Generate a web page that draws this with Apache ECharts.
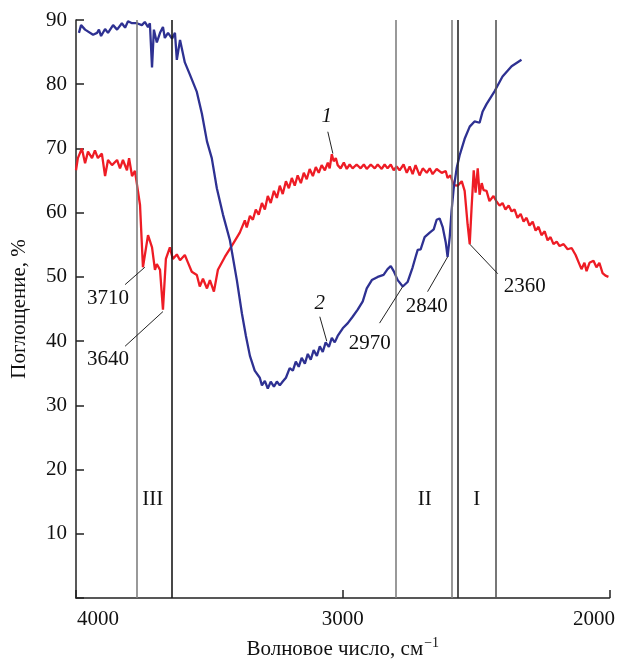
<!DOCTYPE html>
<html>
<head>
<meta charset="utf-8">
<script src="https://cdn.jsdelivr.net/npm/echarts@6/dist/echarts.min.js"></script>
<style>
  html, body { margin: 0; padding: 0; background: #fff; }
  #chart { width: 618px; height: 665px; }
</style>
</head>
<body>
<div id="chart"></div>
<script>
// curve 1 (red) - wavenumber, absorption %
const redWave = [4000, 3993, 3978, 3966, 3955, 3940, 3929, 3918, 3903, 3891, 3880, 3865, 3846, 3835, 3824, 3809, 3801, 3790, 3779, 3772,
  3760, 3749, 3742, 3730, 3715, 3704, 3697, 3685, 3674, 3663, 3648, 3637, 3622, 3610, 3592, 3581, 3566, 3547, 3536, 3524, 3509, 3498, 3483,
  3468, 3442, 3412, 3386, 3367, 3360, 3348, 3337, 3326, 3315, 3303, 3292, 3281, 3270, 3258, 3247, 3236, 3225, 3213, 3202, 3191, 3180, 3169,
  3157, 3146, 3135, 3124, 3112, 3101, 3090, 3079, 3067, 3056, 3049, 3041, 3034, 3026, 3019, 3008, 2996, 2985, 2974, 2963, 2948, 2933, 2921,
  2910, 2895, 2880, 2869, 2854, 2843, 2832, 2820, 2809, 2798, 2787, 2772, 2760, 2749, 2738, 2727, 2712, 2700, 2685, 2674, 2663, 2648, 2629,
  2614, 2607, 2596, 2584, 2569, 2554, 2543, 2532, 2524, 2517, 2509, 2502, 2494, 2487, 2479, 2472, 2461, 2450, 2435, 2423, 2412, 2401, 2390,
  2378, 2367, 2356, 2345, 2333, 2322, 2311, 2300, 2288, 2277, 2266, 2255, 2243, 2232, 2221, 2210, 2198, 2187, 2172, 2157, 2142, 2127, 2116,
  2105, 2094, 2086, 2075, 2060, 2049, 2038, 2026, 2015, 2004];
const redAbs = [66.6, 68.5, 70.0, 67.7, 69.5, 68.5, 69.7, 68.5, 69.2, 65.7, 68.2, 67.4, 68.2, 66.9, 68.2, 66.6, 68.5, 65.7, 66.5, 66.5,
  61.2, 51.5, 51.7, 56.5, 54.6, 51.1, 52.0, 51.1, 44.9, 52.8, 54.6, 52.8, 53.5, 52.6, 53.4, 52.3, 50.8, 50.3, 48.5, 49.7, 48.2, 49.5, 47.7,
  51.1, 53.1, 55.1, 56.9, 58.8, 57.7, 59.5, 58.9, 60.5, 59.7, 61.5, 60.5, 62.6, 61.5, 63.4, 62.3, 64.2, 62.9, 64.9, 63.8, 65.4, 64.2, 65.8,
  64.6, 66.2, 65.2, 66.8, 65.7, 67.1, 66.2, 67.4, 66.6, 67.8, 66.9, 69.1, 68.0, 68.5, 67.4, 66.9, 67.8, 66.8, 67.5, 66.9, 67.5, 66.9, 67.5,
  66.8, 67.5, 66.9, 67.5, 66.8, 67.5, 66.9, 67.5, 66.6, 67.2, 66.6, 67.5, 66.2, 67.2, 66.0, 67.4, 65.8, 66.9, 66.2, 66.9, 66.0, 66.8, 66.2,
  66.5, 65.4, 65.8, 64.3, 64.2, 64.9, 63.4, 58.2, 55.1, 60.8, 66.6, 63.1, 66.9, 62.8, 64.6, 63.5, 63.4, 61.8, 62.6, 61.7, 61.1, 61.5, 60.5,
  61.1, 60.2, 60.5, 59.2, 59.8, 58.6, 59.2, 58.0, 58.6, 57.2, 57.8, 56.5, 57.1, 55.7, 56.2, 55.1, 55.5, 54.8, 55.1, 54.3, 54.5, 53.4, 52.3,
  51.2, 52.2, 50.9, 52.2, 52.5, 51.5, 52.2, 50.6, 50.2, 50.0];

// curve 2 (blue)
const blueWave = [3989, 3981, 3966, 3936, 3921, 3914, 3906, 3891, 3880, 3861, 3846, 3828, 3816, 3805, 3790, 3772, 3753, 3742, 3730, 3723,
  3715, 3708, 3697, 3685, 3674, 3667, 3655, 3640, 3629, 3622, 3610, 3592, 3573, 3547, 3528, 3509, 3491, 3472, 3449, 3423, 3397, 3378, 3363,
  3348, 3330, 3311, 3303, 3292, 3281, 3270, 3258, 3247, 3236, 3225, 3213, 3199, 3187, 3176, 3165, 3154, 3142, 3131, 3120, 3109, 3097, 3086,
  3075, 3064, 3052, 3041, 3030, 3019, 3000, 2981, 2963, 2944, 2925, 2910, 2891, 2869, 2847, 2832, 2820, 2809, 2794, 2775, 2757, 2738, 2727,
  2719, 2708, 2693, 2674, 2659, 2648, 2637, 2625, 2614, 2607, 2599, 2592, 2584, 2573, 2562, 2543, 2524, 2506, 2487, 2476, 2461, 2431, 2401,
  2367, 2330];
const blueAbs = [88.0, 89.2, 88.5, 87.7, 88.0, 88.5, 87.5, 88.6, 88.0, 89.2, 88.5, 89.5, 88.8, 89.8, 89.5, 89.5, 89.2, 89.7, 88.9, 89.5,
  82.6, 88.5, 86.5, 88.0, 88.9, 87.2, 88.0, 87.1, 88.0, 83.8, 86.9, 83.4, 81.5, 78.8, 75.4, 71.1, 68.5, 63.8, 59.7, 55.7, 49.5, 44.3, 40.8,
  37.7, 35.4, 34.3, 33.1, 33.8, 32.6, 33.7, 32.9, 33.7, 33.1, 33.7, 34.3, 35.8, 35.4, 36.8, 36.0, 37.4, 36.5, 38.0, 37.1, 38.6, 37.7, 39.2,
  38.3, 39.8, 39.1, 40.5, 39.8, 40.8, 42.0, 42.8, 43.8, 44.9, 46.2, 48.2, 49.5, 50.0, 50.3, 51.2, 51.7, 50.9, 49.5, 48.5, 49.2, 51.5, 53.1,
  54.2, 54.3, 56.2, 56.9, 57.4, 58.9, 59.1, 57.7, 55.4, 53.1, 56.2, 60.3, 63.8, 66.9, 68.9, 71.5, 73.4, 74.2, 74.0, 75.7, 76.9, 78.9, 81.2,
  82.8, 83.8];

// vertical reference lines
const refWave = [3771, 3640, 2802, 2592, 2569, 2427];
const refColor = ['#808080', '#1a1a1a', '#808080', '#808080', '#2a2a2a', '#555555'];

// text labels on the plot
const labelText = ['1', '2', '2970', '2840', '2360', '3710', '3640', 'III', 'II', 'I'];
const labelWave = [3060, 3086, 2899, 2685, 2318, 3880, 3880, 3712, 2693, 2498];
const labelAbs = [74.9, 45.8, 39.7, 45.4, 48.5, 46.6, 37.2, 15.4, 15.4, 15.4];

// leader lines: [wave1, abs1, wave2, abs2]
const leaders = [
  [3056, 72.6, 3037, 69.2],
  [3086, 43.8, 3060, 40.0],
  [2862, 42.8, 2775, 48.5],
  [2682, 47.7, 2607, 53.1],
  [2524, 55.1, 2419, 50.5],
  [3816, 48.8, 3742, 51.5],
  [3816, 39.2, 3674, 44.6]
];

const font = 'Liberation Serif';
const chart = echarts.init(document.getElementById('chart'));

const option = {
  backgroundColor: '#fff',
  animation: false,
  grid: { left: 76, right: 8, top: 20, bottom: 60 },
  xAxis: {
    type: 'value',
    inverse: true,
    min: 2000,
    max: 4000,
    interval: 1000,
    name: '{n|Волновое число, см}{s|−1}',
    nameLocation: 'middle',
    nameGap: 38,
    nameTextStyle: {
      rich: {
        n: { fontFamily: font, fontSize: 21, color: '#111', lineHeight: 24, verticalAlign: 'bottom' },
        s: { fontFamily: font, fontSize: 14, color: '#111', lineHeight: 24, verticalAlign: 'top', padding: [0, 0, 10, 1] }
      }
    },
    axisLine: { lineStyle: { color: '#222', width: 1.5 } },
    axisTick: { inside: true, length: 8, lineStyle: { color: '#222', width: 1.5 } },
    splitLine: { show: false },
    axisLabel: {
      margin: 11,
      formatter: function (v) {
        if (v === 4000) return '{l|4000}';
        if (v === 2000) return '{r|2000}';
        return '{m|' + v + '}';
      },
      rich: {
        l: { fontFamily: font, fontSize: 21, color: '#111', padding: [0, 0, 0, 44] },
        r: { fontFamily: font, fontSize: 21, color: '#111', padding: [0, 31, 0, 0] },
        m: { fontFamily: font, fontSize: 21, color: '#111' }
      }
    }
  },
  yAxis: {
    type: 'value',
    min: 0,
    max: 90,
    interval: 10,
    name: 'Поглощение, %',
    nameLocation: 'middle',
    nameGap: 46,
    nameTextStyle: { fontFamily: font, fontSize: 21, color: '#111' },
    axisLine: { show: true, lineStyle: { color: '#222', width: 1.5 } },
    axisTick: { inside: true, length: 8, lineStyle: { color: '#222', width: 1.5 } },
    splitLine: { show: false },
    axisLabel: {
      margin: 9,
      fontFamily: font,
      fontSize: 21,
      color: '#111',
      formatter: v => (v === 0 ? '' : v)
    }
  },
  series: [
    {
      name: 'refs',
      type: 'line',
      data: [],
      silent: true,
      markLine: {
        symbol: 'none',
        silent: true,
        label: { show: false },
        data: refWave.map((w, i) => ({ xAxis: w, lineStyle: { color: refColor[i], width: 1.6, type: 'solid' } }))
      }
    },
    {
      name: '1',
      type: 'line',
      showSymbol: false,
      data: redWave.map((w, i) => [w, redAbs[i]]),
      lineStyle: { color: '#ee1c25', width: 2.3 },
      itemStyle: { color: '#ee1c25' }
    },
    {
      name: '2',
      type: 'line',
      showSymbol: false,
      data: blueWave.map((w, i) => [w, blueAbs[i]]),
      lineStyle: { color: '#2e3192', width: 2.3 },
      itemStyle: { color: '#2e3192' }
    },
    {
      name: 'leaders',
      type: 'line',
      data: [],
      silent: true,
      markLine: {
        symbol: 'none',
        silent: true,
        label: { show: false },
        lineStyle: { color: '#222', width: 1, type: 'solid' },
        data: leaders.map(l => [{ coord: [l[0], l[1]] }, { coord: [l[2], l[3]] }])
      },
      markPoint: {
        symbol: 'circle',
        symbolSize: 0,
        silent: true,
        itemStyle: { color: '#111' },
        label: {
          show: true,
          position: 'inside',
          formatter: p => p.name,
          fontFamily: font,
          fontSize: 21,
          color: '#111',
          textBorderWidth: 0
        },
        data: labelText.map((t, i) => ({
          coord: [labelWave[i], labelAbs[i]],
          name: t,
          label: { fontStyle: (t === '1' || t === '2') ? 'italic' : 'normal' }
        }))
      }
    }
  ]
};

chart.setOption(option);
</script>
</body>
</html>
